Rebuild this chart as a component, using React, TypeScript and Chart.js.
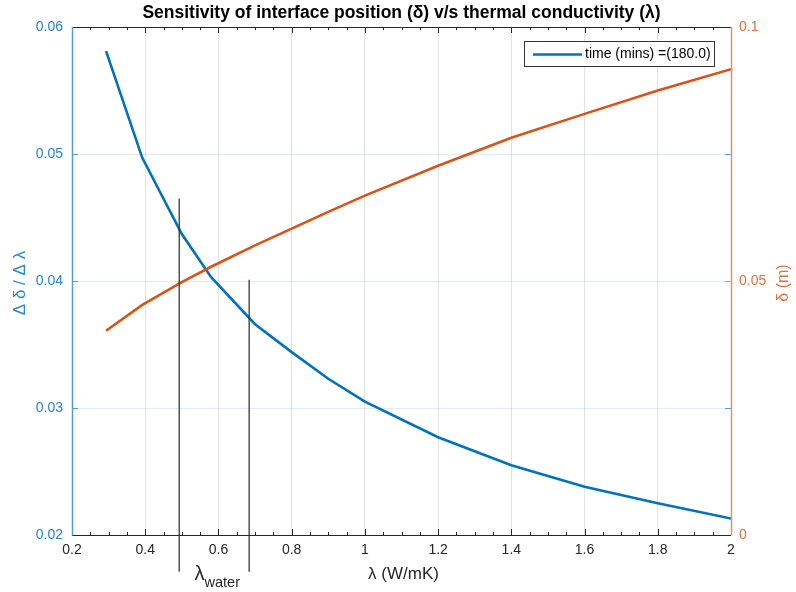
import React, { useEffect, useRef } from "react";
import { Chart, registerables } from "chart.js";

Chart.register(...registerables);

// ---- data ----
const lambdaValues = [0.293, 0.392, 0.5, 0.58, 0.7, 0.8, 0.9, 1.0, 1.2, 1.4, 1.6, 1.8, 2.0];
const sensitivityValues = [0.0581, 0.0497, 0.0437, 0.0403, 0.0366, 0.0344, 0.0323, 0.0305, 0.0277, 0.0255, 0.0238, 0.0225, 0.0213];
const deltaValues = [0.0402, 0.0453, 0.0498, 0.0528, 0.057, 0.0603, 0.0636, 0.0668, 0.0727, 0.0782, 0.0829, 0.0875, 0.0917];
const waterLambdaX = [0.493, 0.684];
const waterLineTop = [0.0465, 0.0401];
const waterLineBottom = [0.0171, 0.0171];

const titleText = "Sensitivity of interface position (\u03B4) v/s thermal conductivity (\u03BB)";
const legendText = "time (mins) =(180.0)";
const xTitle = "\u03BB (W/mK)";
const yLeftTitle = "\u0394 \u03B4 / \u0394 \u03BB";
const yRightTitle = "\u03B4 (m)";

const FONT = "'Liberation Sans', Arial, Helvetica, sans-serif";
const BLUE = "#0072BD";
const ORANGE = "#D95319";
const BLUE_TXT = "#2a86cc";
const ORANGE_TXT = "#e0703f";
const BLUE_AXIS = "#4f9edb";
const ORANGE_AXIS = "#e98d63";
const DARK = "#262626";

const fmt = (v: number) => String(parseFloat(Number(v).toFixed(3)));

const overlay = {
  id: "overlay",
  afterDraw(chart: any) {
    const { ctx, chartArea, scales } = chart;
    const { left, right, top, bottom } = chartArea;
    const x = scales.x;
    const y = scales.y;
    const y1 = scales.y1;
    ctx.save();

    // ticks (inside)
    ctx.lineWidth = 1;
    ctx.strokeStyle = DARK;
    for (let i = 0; i <= 36; i++) {
      const v = 0.2 + i * 0.05;
      const px = Math.round(x.getPixelForValue(v)) + 0.5;
      const major = i % 4 === 0;
      const len = major ? 6 : 3;
      ctx.beginPath();
      ctx.moveTo(px, bottom);
      ctx.lineTo(px, bottom - len);
      ctx.moveTo(px, top);
      ctx.lineTo(px, top + len);
      ctx.stroke();
    }
    ctx.strokeStyle = BLUE_AXIS;
    for (let i = 0; i <= 4; i++) {
      const py = Math.round(y.getPixelForValue(0.02 + i * 0.01)) + 0.5;
      ctx.beginPath();
      ctx.moveTo(left, py);
      ctx.lineTo(left + 6, py);
      ctx.moveTo(right, py);
      ctx.lineTo(right - 6, py);
      ctx.stroke();
    }
    ctx.strokeStyle = ORANGE_AXIS;
    for (let i = 0; i <= 2; i++) {
      const py = Math.round(y1.getPixelForValue(i * 0.05)) + 0.5;
      ctx.beginPath();
      ctx.moveTo(right, py);
      ctx.lineTo(right - 6, py);
      ctx.stroke();
    }

    // box
    ctx.lineWidth = 1;
    ctx.strokeStyle = DARK;
    ctx.beginPath();
    ctx.moveTo(left, Math.round(top) + 0.5);
    ctx.lineTo(right, Math.round(top) + 0.5);
    ctx.moveTo(left, Math.round(bottom) + 0.5);
    ctx.lineTo(right, Math.round(bottom) + 0.5);
    ctx.stroke();
    ctx.lineWidth = 1.5;
    ctx.strokeStyle = BLUE_AXIS;
    ctx.beginPath();
    ctx.moveTo(Math.round(left) + 0.5, top);
    ctx.lineTo(Math.round(left) + 0.5, bottom + 0.5);
    ctx.stroke();
    ctx.strokeStyle = ORANGE_AXIS;
    ctx.beginPath();
    ctx.moveTo(Math.round(right) + 0.5, top);
    ctx.lineTo(Math.round(right) + 0.5, bottom + 0.5);
    ctx.stroke();

    // title
    ctx.fillStyle = "#000";
    ctx.font = `bold 17.5px ${FONT}`;
    ctx.textAlign = "center";
    ctx.textBaseline = "middle";
    ctx.fillText(titleText, (left + right) / 2, 13);

    // x title
    ctx.fillStyle = DARK;
    ctx.font = `17px ${FONT}`;
    ctx.fillText(xTitle, (left + right) / 2 + 2, 574);

    // lambda water label
    const mid = (x.getPixelForValue(waterLambdaX[0]) + x.getPixelForValue(waterLambdaX[1])) / 2;
    ctx.font = `20px ${FONT}`;
    const wL = ctx.measureText("\u03BB").width;
    ctx.font = `14.5px ${FONT}`;
    const wW = ctx.measureText("water").width;
    const start = mid - (wL + wW) / 2 + 3;
    ctx.textAlign = "left";
    ctx.textBaseline = "alphabetic";
    ctx.font = `20px ${FONT}`;
    ctx.fillText("\u03BB", start, 580);
    ctx.font = `14.5px ${FONT}`;
    ctx.fillText("water", start + wL, 587);

    // left y title
    ctx.save();
    ctx.translate(20, (top + bottom) / 2 + 2);
    ctx.rotate(-Math.PI / 2);
    ctx.textAlign = "center";
    ctx.textBaseline = "middle";
    ctx.fillStyle = BLUE_TXT;
    ctx.font = `17px ${FONT}`;
    ctx.fillText(yLeftTitle, 0, 0);
    ctx.restore();

    // right y title
    ctx.save();
    ctx.translate(784, (top + bottom) / 2 + 2);
    ctx.rotate(-Math.PI / 2);
    ctx.textAlign = "center";
    ctx.textBaseline = "middle";
    ctx.fillStyle = ORANGE_TXT;
    ctx.font = `16px ${FONT}`;
    ctx.fillText(yRightTitle, 0, 0);
    ctx.restore();

    // legend
    const lx = 524.5, ly = 41.5, lw = 190, lh = 25;
    ctx.fillStyle = "#fff";
    ctx.fillRect(lx, ly, lw, lh);
    ctx.strokeStyle = "#333";
    ctx.lineWidth = 1;
    ctx.strokeRect(lx, ly, lw, lh);
    ctx.strokeStyle = BLUE;
    ctx.lineWidth = 2.5;
    ctx.beginPath();
    ctx.moveTo(533, 54.5);
    ctx.lineTo(582, 54.5);
    ctx.stroke();
    ctx.fillStyle = "#000";
    ctx.font = `14px ${FONT}`;
    ctx.textAlign = "left";
    ctx.textBaseline = "middle";
    ctx.fillText(legendText, 585, 54.5);

    ctx.restore();
  },
};

export default function App() {
  const ref = useRef<HTMLCanvasElement | null>(null);

  useEffect(() => {
    if (!ref.current) return;
    const blueData = lambdaValues.map((v, i) => ({ x: v, y: sensitivityValues[i] }));
    const redData = lambdaValues.map((v, i) => ({ x: v, y: deltaValues[i] }));
    const waterSets = waterLambdaX.map((v, i) => ({
      label: "water" + i,
      data: [
        { x: v, y: waterLineTop[i] },
        { x: v, y: waterLineBottom[i] },
      ],
      yAxisID: "y",
      borderColor: "rgba(50,50,50,0.85)",
      borderWidth: 1.5,
      pointRadius: 0,
      clip: false as any,
      order: 0,
    }));

    const chart = new Chart(ref.current, {
      type: "line",
      data: {
        datasets: [
          {
            label: legendText,
            data: blueData,
            yAxisID: "y",
            borderColor: BLUE,
            borderWidth: 2.6,
            pointRadius: 0,
            tension: 0,
            order: 2,
          },
          {
            label: "delta",
            data: redData,
            yAxisID: "y1",
            borderColor: ORANGE,
            borderWidth: 2.6,
            pointRadius: 0,
            tension: 0,
            order: 1,
          },
          ...waterSets,
        ],
      },
      options: {
        responsive: false,
        animation: false,
        layout: { padding: { top: 27, left: 0, right: 0, bottom: 0 } },
        plugins: {
          legend: { display: false },
          tooltip: { enabled: false },
          title: { display: false },
        },
        scales: {
          x: {
            type: "linear",
            min: 0.2,
            max: 2,
            afterFit(s: any) {
              s.height = 57;
            },
            ticks: {
              stepSize: 0.2,
              padding: 7,
              color: DARK,
              font: { size: 14, family: FONT },
              maxRotation: 0,
              autoSkip: false,
              callback: (v: any) => fmt(v),
            },
            grid: { color: "rgba(38,38,38,0.13)", drawTicks: false },
            border: { display: false },
          },
          y: {
            type: "linear",
            position: "left",
            min: 0.02,
            max: 0.06,
            afterFit(s: any) {
              s.width = 72;
            },
            ticks: {
              stepSize: 0.01,
              padding: 9,
              color: BLUE_TXT,
              font: { size: 14, family: FONT },
              callback: (v: any) => fmt(v),
            },
            grid: { color: "rgba(0,114,189,0.13)", drawTicks: false },
            border: { display: false },
          },
          y1: {
            type: "linear",
            position: "right",
            min: 0,
            max: 0.1,
            afterFit(s: any) {
              s.width = 65;
            },
            ticks: {
              stepSize: 0.05,
              padding: 8,
              color: ORANGE_TXT,
              font: { size: 14, family: FONT },
              callback: (v: any) => fmt(v),
            },
            grid: { display: false, drawTicks: false },
            border: { display: false },
          },
        },
      },
      plugins: [overlay],
    } as any);
    return () => chart.destroy();
  }, []);

  return (
    <div style={{ position: "absolute", left: 0, top: 0, width: 796, height: 592, background: "#fff" }}>
      <canvas ref={ref} width={796} height={592} />
    </div>
  );
}
